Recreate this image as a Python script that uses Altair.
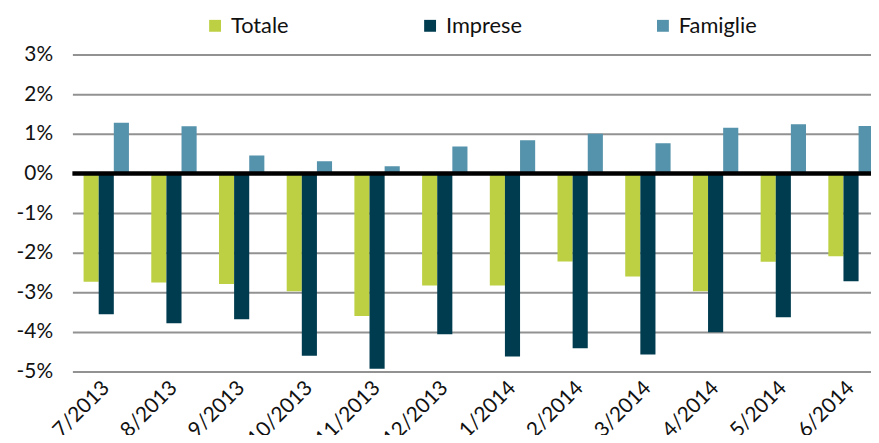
import altair as alt
import pandas as pd

months = ["7/2013", "8/2013", "9/2013", "10/2013", "11/2013", "12/2013",
          "1/2014", "2/2014", "3/2014", "4/2014", "5/2014", "6/2014"]
series_names = ["Totale", "Imprese", "Famiglie"]
totale = [-2.73, -2.75, -2.79, -2.97, -3.60, -2.83, -2.83, -2.22, -2.60, -2.97, -2.23, -2.09]
imprese = [-3.55, -3.78, -3.68, -4.60, -4.93, -4.06, -4.62, -4.41, -4.57, -4.01, -3.63, -2.72]
famiglie = [1.28, 1.19, 0.45, 0.31, 0.18, 0.68, 0.84, 1.00, 0.76, 1.15, 1.24, 1.20]
colors = ["#bdd043", "#003c50", "#5592ab"]
y_ticks = [-5, -4, -3, -2, -1, 0, 1, 2, 3]

rows = []
for name, vals in zip(series_names, [totale, imprese, famiglie]):
    for m, v in zip(months, vals):
        rows.append({"mese": m, "serie": name, "valore": v})
df = pd.DataFrame(rows)

FONT = "Lato"

y_scale = alt.Scale(domain=[-5, 3], nice=False)
y_axis = alt.Axis(title=None, values=y_ticks,
                  labelExpr="datum.value + '%'", labelOverlap=False,
                  ticks=False, domain=False, labelPadding=20,
                  labelFontSize=21, labelFont=FONT, labelColor="#111111",
                  grid=True, gridColor="#929292", gridWidth=2)

bars = alt.Chart(df).mark_bar(clip=True).encode(
    x=alt.X("mese:N", sort=months,
            scale=alt.Scale(range=[0, 820], paddingInner=0.33, paddingOuter=0.165),
            axis=alt.Axis(title=None, labelAngle=-45, labelAlign="right",
                          labelBaseline="middle", labelPadding=13, ticks=False,
                          domain=False, labelFontSize=21, labelFont=FONT,
                          labelColor="#111111", labelOverlap=False)),
    xOffset=alt.XOffset("serie:N", sort=series_names,
                        scale=alt.Scale(paddingInner=0, paddingOuter=0)),
    y=alt.Y("valore:Q", scale=y_scale, axis=y_axis),
    color=alt.Color("serie:N", sort=series_names,
                    scale=alt.Scale(domain=series_names, range=colors),
                    legend=alt.Legend(orient="none", legendX=133, legendY=-40,
                                      direction="horizontal", title=None,
                                      symbolType="square", symbolSize=144,
                                      symbolStrokeWidth=0,
                                      labelFontSize=22, labelFont=FONT,
                                      labelColor="#111111",
                                      columnPadding=131, labelOffset=5,
                                      padding=0)),
)

zero = alt.Chart(pd.DataFrame({"valore": [0]})).mark_rule(color="black", strokeWidth=4.5).encode(
    y=alt.Y("valore:Q", scale=y_scale, axis=y_axis)
)

chart = alt.layer(bars, zero).properties(
    width=806, height=320,
    autosize=alt.AutoSizeParams(type="none"),
    padding={"left": 65, "top": 45, "right": 0, "bottom": 62},
).configure_view(stroke=None).configure_axisY(labelOverlap=False)

chart.save("out.html", embed_options={"renderer": "svg", "actions": False})
